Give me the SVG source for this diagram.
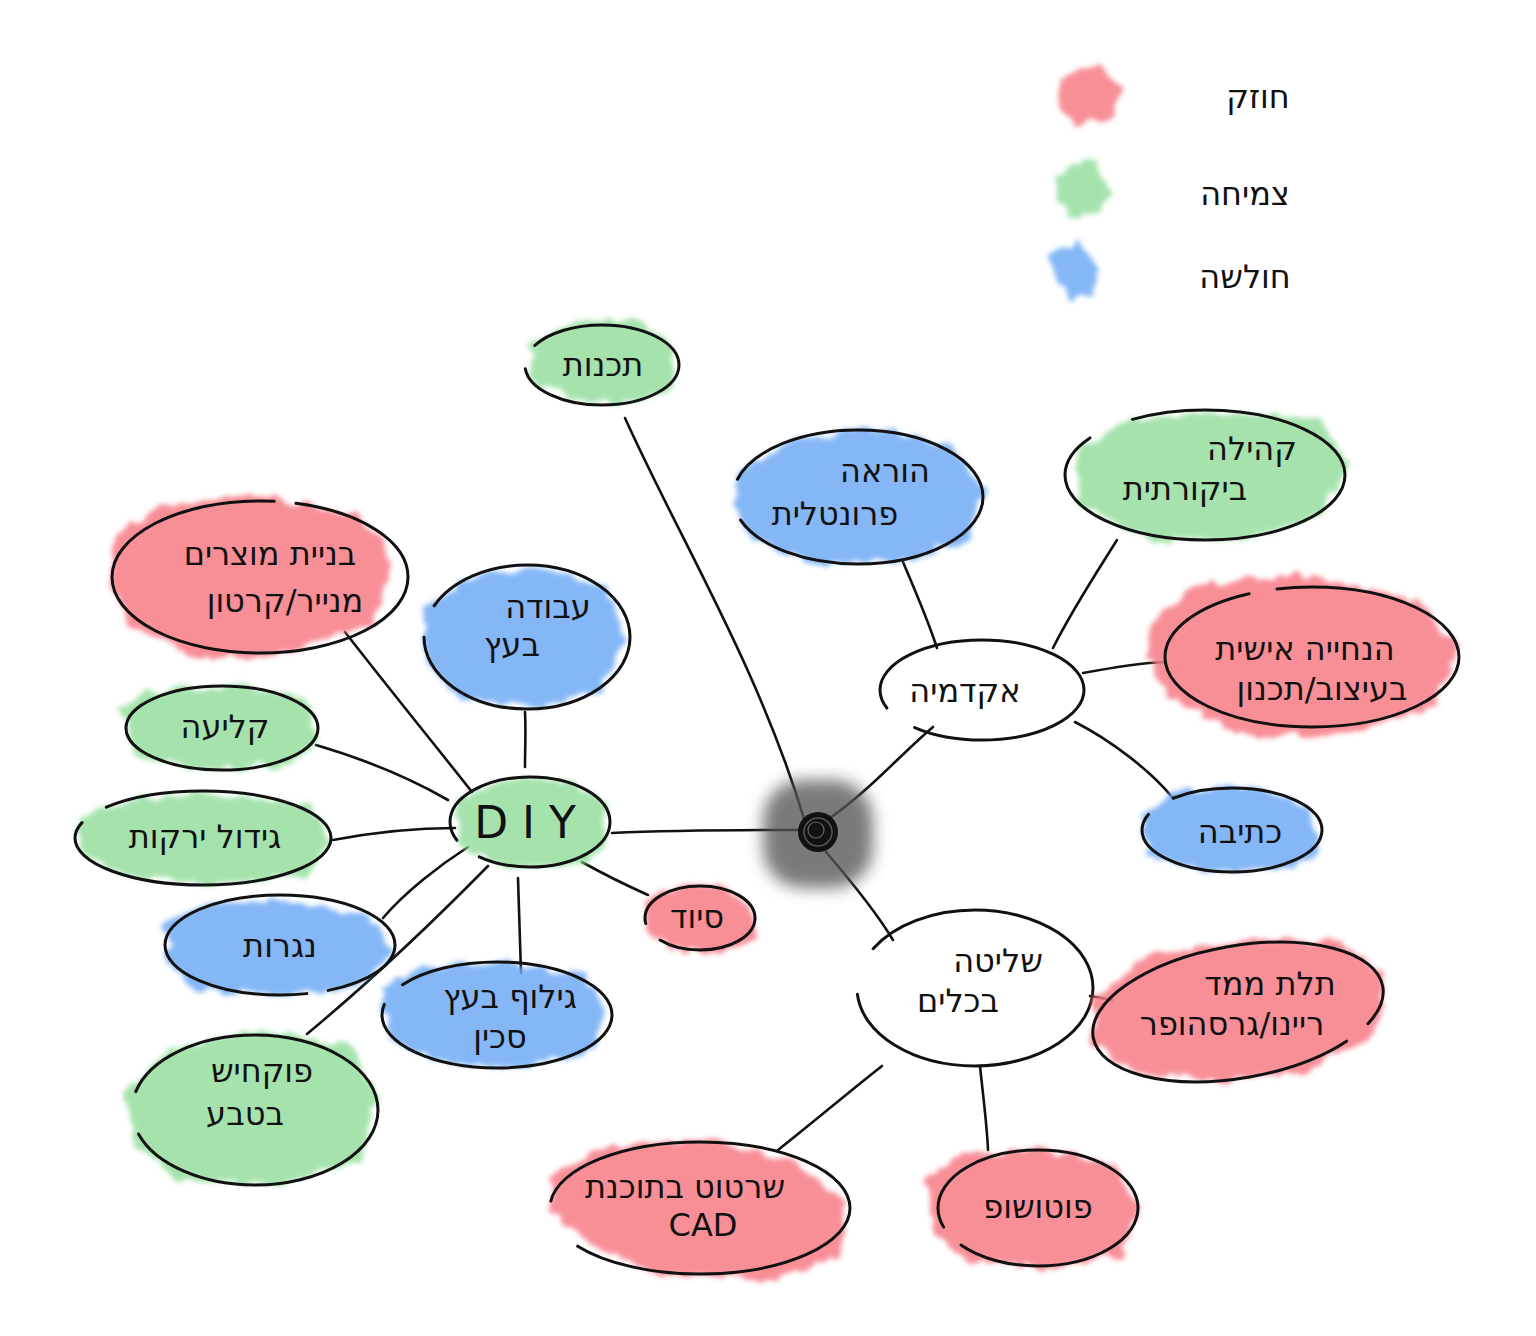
<svg xmlns="http://www.w3.org/2000/svg" width="1536" height="1336" viewBox="0 0 1536 1336">
<defs>
<filter id="rough" x="-20%" y="-20%" width="140%" height="140%">
<feTurbulence type="fractalNoise" baseFrequency="0.06" numOctaves="2" seed="3" result="n"/>
<feDisplacementMap in="SourceGraphic" in2="n" scale="16" xChannelSelector="R" yChannelSelector="G" result="d"/>
<feGaussianBlur in="d" stdDeviation="2.5"/>
</filter>
<filter id="soft" x="-40%" y="-40%" width="180%" height="180%">
<feGaussianBlur stdDeviation="8"/>
</filter>
</defs>
<style>
.red{fill:#f77c86;opacity:.85}
.green{fill:#8fdc98;opacity:.8}
.blue{fill:#6faaf5;opacity:.85}
.fill{filter:url(#rough)}
.ol{fill:none;stroke:#111;stroke-width:3;stroke-linecap:round}
.ln{fill:none;stroke:#111;stroke-width:2.6;stroke-linecap:round;stroke-linejoin:round}
text{font-family:"DejaVu Sans","Liberation Sans","Noto Sans",sans-serif;font-size:32px;fill:#111;text-anchor:middle}
.big{font-size:44px;letter-spacing:14px;font-weight:normal}
</style>
<rect width="1536" height="1336" fill="#ffffff"/>

<g id="legend">
<path class="red fill" d="M1062,80 L1100,62 L1122,90 L1112,118 L1075,126 L1058,102 Z"/>
<path class="green fill" d="M1058,172 L1092,160 L1112,190 L1100,214 L1068,216 L1055,195 Z"/>
<path class="blue fill" d="M1052,255 L1078,240 L1098,270 L1094,295 L1070,300 L1054,278 Z"/>
<text x="1258" y="108">חוזק</text>
<text x="1245" y="205">צמיחה</text>
<text x="1245" y="288">חולשה</text>
</g>

<g id="connectors">
<path class="ln" d="M625,418 C680,540 760,670 805,822"/>
<path class="ln" d="M830,818 C870,790 900,755 933,727"/>
<path class="ln" d="M826,852 C850,880 875,910 893,940"/>
<path class="ln" d="M612,833 C680,830 740,830 798,830"/>
<path class="ln" d="M903,562 C915,590 928,620 937,648"/>
<path class="ln" d="M1117,540 C1095,575 1072,610 1053,648"/>
<path class="ln" d="M1083,673 C1110,668 1140,663 1165,662"/>
<path class="ln" d="M1075,722 C1110,740 1150,770 1172,797"/>
<path class="ln" d="M1090,996 L1112,1000"/>
<path class="ln" d="M980,1066 C983,1095 987,1125 988,1150"/>
<path class="ln" d="M882,1066 C845,1095 810,1125 778,1150"/>
<path class="ln" d="M525,712 C526,730 525,750 525,767"/>
<path class="ln" d="M345,632 C390,690 435,745 472,792"/>
<path class="ln" d="M316,745 C360,758 410,778 448,800"/>
<path class="ln" d="M333,840 C370,833 410,828 455,828"/>
<path class="ln" d="M383,918 C405,892 440,865 468,847"/>
<path class="ln" d="M518,878 C519,910 520,940 521,973"/>
<path class="ln" d="M488,866 C430,925 360,990 307,1034"/>
<path class="ln" d="M582,862 C605,875 628,886 648,895"/>
</g>

<g id="center">
<rect x="763" y="780" width="110" height="108" rx="40" fill="#555" opacity=".78" filter="url(#soft)"/>
<circle cx="818" cy="832" r="20" fill="#111"/>
<circle cx="818" cy="832" r="14" fill="none" stroke="#555" stroke-width="1.5"/>
<circle cx="816" cy="830" r="8" fill="none" stroke="#666" stroke-width="1.2"/>
</g>

<g id="n-tichnut">
<path class="green fill" d="M530,345 L575,322 L640,320 L672,345 L675,385 L640,402 L570,400 L532,380 Z"/>
<ellipse class="ol" cx="602" cy="365" rx="77" ry="40" pathLength="100" stroke-dasharray="93 7" stroke-dashoffset="44"/>
<text x="603" y="376">תכנות</text>
</g>

<g id="n-horaa">
<path class="blue fill" d="M740,470 L790,440 L870,428 L950,445 L985,490 L970,540 L900,560 L820,565 L750,540 L735,500 Z"/>
<ellipse class="ol" cx="858" cy="497" rx="125" ry="67" pathLength="100" stroke-dasharray="93 7" stroke-dashoffset="47"/>
<text x="885" y="482">הוראה</text>
<text x="835" y="525">פרונטלית</text>
</g>

<g id="n-kehila">
<path class="green fill" d="M1075,450 L1130,420 L1220,412 L1320,420 L1348,465 L1320,515 L1240,540 L1150,540 L1078,505 Z"/>
<ellipse class="ol" cx="1205" cy="475" rx="140" ry="65" pathLength="100" stroke-dasharray="93 7" stroke-dashoffset="36"/>
<text x="1252" y="460">קהילה</text>
<text x="1185" y="500">ביקורתית</text>
</g>

<g id="n-akademia">
<ellipse class="ol" cx="982" cy="690" rx="102" ry="50" pathLength="100" stroke-dasharray="93 7" stroke-dashoffset="54"/>
<text x="965" y="702">אקדמיה</text>
</g>

<g id="n-hanchaya">
<path class="red fill" d="M1150,620 L1200,585 L1300,575 L1420,600 L1458,650 L1430,710 L1340,735 L1240,735 L1170,700 L1148,660 Z"/>
<ellipse class="ol" cx="1312" cy="657" rx="147" ry="70" pathLength="100" stroke-dasharray="96 4" stroke-dashoffset="30"/>
<text x="1305" y="660">הנחייה אישית</text>
<text x="1322" y="700">בעיצוב/תכנון</text>
</g>

<g id="n-ktiva">
<path class="blue fill" d="M1140,815 L1180,790 L1260,788 L1310,805 L1320,850 L1290,870 L1200,872 L1150,855 Z"/>
<ellipse class="ol" cx="1232" cy="830" rx="90" ry="42" pathLength="100" stroke-dasharray="93 7" stroke-dashoffset="39"/>
<text x="1240" y="843">כתיבה</text>
</g>

<g id="n-shlita">
<ellipse class="ol" cx="975" cy="988" rx="118" ry="78" pathLength="100" stroke-dasharray="92 8" stroke-dashoffset="43"/>
<text x="998" y="972">שליטה</text>
<text x="958" y="1012">בכלים</text>
</g>

<g id="n-telat">
<path class="red fill" d="M1095,1000 L1140,960 L1230,940 L1340,942 L1385,975 L1375,1035 L1310,1070 L1220,1082 L1130,1070 L1093,1040 Z"/>
<ellipse class="ol" cx="1238" cy="1012" rx="147" ry="66" transform="rotate(-10 1238 1012)" pathLength="100" stroke-dasharray="96 4" stroke-dashoffset="90"/>
<text x="1270" y="995">תלת ממד</text>
<text x="1232" y="1035">ריינו/גרסהופר</text>
</g>

<g id="n-photoshop">
<path class="red fill" d="M925,1180 L960,1155 L1040,1148 L1115,1165 L1140,1210 L1120,1255 L1050,1268 L970,1262 L935,1235 Z"/>
<ellipse class="ol" cx="1038" cy="1208" rx="100" ry="58" pathLength="100" stroke-dasharray="95 5" stroke-dashoffset="54"/>
<text x="1038" y="1218">פוטושופ</text>
</g>

<g id="n-cad">
<path class="red fill" d="M550,1175 L610,1145 L700,1138 L790,1160 L845,1200 L840,1255 L770,1280 L660,1275 L590,1245 L552,1210 Z"/>
<ellipse class="ol" cx="700" cy="1208" rx="150" ry="66" pathLength="100" stroke-dasharray="92 8" stroke-dashoffset="49"/>
<text x="685" y="1198">שרטוט בתוכנת</text>
<text x="703" y="1236">CAD</text>
</g>

<g id="n-diy">
<path class="green fill" d="M458,800 L500,780 L560,778 L605,800 L610,845 L580,865 L510,868 L462,848 Z"/>
<ellipse class="ol" cx="530" cy="822" rx="80" ry="45" pathLength="100" stroke-dasharray="93 7" stroke-dashoffset="55"/>
<text class="big" x="532" y="838">DIY</text>
</g>

<g id="n-siud">
<path class="red fill" d="M640,905 L665,888 L720,885 L752,905 L755,940 L720,952 L670,950 L645,930 Z"/>
<ellipse class="ol" cx="700" cy="918" rx="55" ry="32" pathLength="100" stroke-dasharray="92 8" stroke-dashoffset="52"/>
<text x="697" y="928">סיוד</text>
</g>

<g id="n-avoda">
<path class="blue fill" d="M425,610 L460,580 L540,568 L610,590 L625,640 L600,690 L540,708 L460,700 L425,660 Z"/>
<ellipse class="ol" cx="527" cy="637" rx="103" ry="72" pathLength="100" stroke-dasharray="94 6" stroke-dashoffset="44"/>
<text x="548" y="618">עבודה</text>
<text x="512" y="656">בעץ</text>
</g>

<g id="n-bniya">
<path class="red fill" d="M112,540 L160,505 L260,495 L360,515 L395,560 L375,620 L300,650 L200,660 L130,625 L110,580 Z"/>
<ellipse class="ol" cx="260" cy="577" rx="148" ry="76" pathLength="100" stroke-dasharray="97 3" stroke-dashoffset="20"/>
<text x="270" y="565">בניית מוצרים</text>
<text x="285" y="612">מנייר/קרטון</text>
</g>

<g id="n-klia">
<path class="green fill" d="M120,710 L150,690 L240,685 L305,700 L318,740 L290,765 L200,770 L135,755 Z"/>
<ellipse class="ol" cx="222" cy="728" rx="96" ry="42"/>
<text x="225" y="738">קליעה</text>
</g>

<g id="n-gidul">
<path class="green fill" d="M78,820 L120,800 L220,795 L310,805 L332,845 L300,878 L200,885 L110,870 L78,848 Z"/>
<ellipse class="ol" cx="203" cy="838" rx="128" ry="47" pathLength="100" stroke-dasharray="95 5" stroke-dashoffset="42"/>
<text x="205" y="848">גידול ירקות</text>
</g>

<g id="n-nagarut">
<path class="blue fill" d="M165,925 L200,905 L290,900 L370,915 L392,950 L360,985 L280,995 L200,990 L168,965 Z"/>
<ellipse class="ol" cx="280" cy="945" rx="115" ry="50" pathLength="100" stroke-dasharray="96 4" stroke-dashoffset="80"/>
<text x="280" y="957">נגרות</text>
</g>

<g id="n-giluf">
<path class="blue fill" d="M380,990 L420,968 L500,962 L580,975 L608,1010 L590,1050 L520,1068 L440,1062 L390,1040 Z"/>
<ellipse class="ol" cx="497" cy="1015" rx="115" ry="53" pathLength="100" stroke-dasharray="95 5" stroke-dashoffset="43"/>
<text x="510" y="1008">גילוף בעץ</text>
<text x="500" y="1048">סכין</text>
</g>

<g id="n-bateva">
<path class="green fill" d="M125,1090 L170,1050 L260,1030 L350,1045 L378,1100 L360,1160 L280,1185 L180,1180 L135,1145 Z"/>
<ellipse class="ol" cx="255" cy="1110" rx="123" ry="75" pathLength="100" stroke-dasharray="93 7" stroke-dashoffset="47"/>
<text x="262" y="1082">פוקחיש</text>
<text x="245" y="1125">בטבע</text>
</g>
</svg>
